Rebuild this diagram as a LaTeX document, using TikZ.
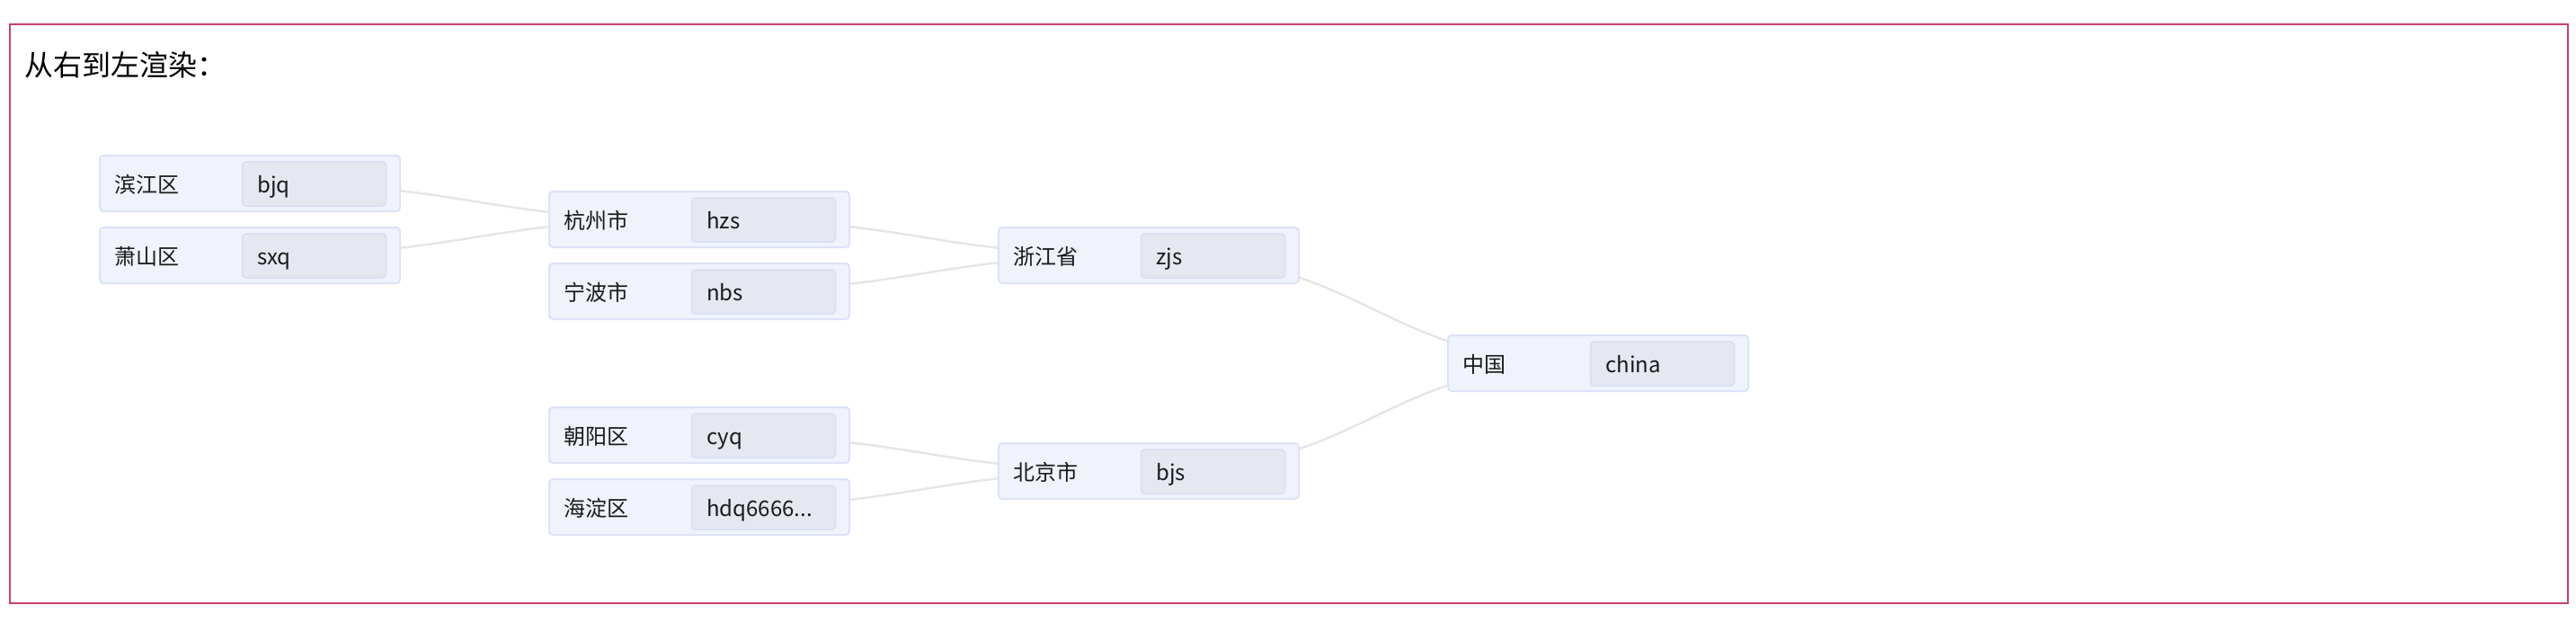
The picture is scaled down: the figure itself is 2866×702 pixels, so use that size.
\documentclass[tikz,border=0pt]{standalone}
\usepackage{fontspec}
\setmainfont{Noto Sans CJK SC}
\usetikzlibrary{backgrounds,calc}
\definecolor{framec}{HTML}{C8426E}
\definecolor{nodefill}{HTML}{F0F3FC}
\definecolor{nodeline}{HTML}{DCE2F6}
\definecolor{valfill}{HTML}{E5E8F1}
\definecolor{valline}{HTML}{D8DEF2}
\definecolor{edgec}{HTML}{E6E6E6}
\definecolor{textc}{HTML}{1A1A1A}
\newcommand\tnode[5]{%
  \node[box] (#1) at (#2+168,#3+32) {};
  \node[valbox] (#1v) at (#2+239.5,#3+32.5) {};
  \node[lbl] (#1l) at (#2+17,#3+42) {#4};
  \node[lbl] (#1s) at (#2+176,#3+42) {#5};}
\begin{document}
\begin{tikzpicture}[x=1pt,y=-1pt,
  box/.style={draw=nodeline, fill=nodefill, line width=2pt, rounded corners=4pt,
    minimum width=334pt, minimum height=62pt, inner sep=0pt, outer sep=0pt},
  valbox/.style={draw=valline, fill=valfill, line width=1.5pt, rounded corners=4pt,
    minimum width=160pt, minimum height=49pt, inner sep=0pt, outer sep=0pt},
  lbl/.style={font=\fontsize{24}{28}\selectfont, text=textc, inner sep=0pt, anchor=base west},
  titlestyle/.style={font=\fontsize{32}{38}\selectfont, text=black, inner sep=0pt, anchor=base west},
  framestyle/.style={draw=framec, line width=2.5pt},
  edge/.style={draw=edgec, line width=2.5pt},
  link/.style={to path={let \p1=(\tikztostart), \p2=(\tikztotarget) in
    .. controls ({(\x1+\x2)/2},\y1) and ({(\x1+\x2)/2},\y2) .. (\tikztotarget)}}
]
\useasboundingbox (0,0) rectangle (2866,702);
\draw[framestyle] (11,27) rectangle (2857,671);
\node[titlestyle] (title) at (27,84) {从右到左渲染：};

\tnode{bj}{110}{172}{滨江区}{bjq}
\tnode{xs}{110}{252}{萧山区}{sxq}
\tnode{hz}{610}{212}{杭州市}{hzs}
\tnode{nb}{610}{292}{宁波市}{nbs}
\tnode{cy}{610}{452}{朝阳区}{cyq}
\tnode{hd}{610}{532}{海淀区}{hdq6666...}
\tnode{zj}{1110}{252}{浙江省}{zjs}
\tnode{bjs}{1110}{492}{北京市}{bjs}
\tnode{cn}{1610}{372}{中国}{china}

\begin{scope}[on background layer]
  \draw[edge] (cn.center) to[link] (zj.center);
  \draw[edge] (cn.center) to[link] (bjs.center);
  \draw[edge] (zj.center) to[link] (hz.center);
  \draw[edge] (zj.center) to[link] (nb.center);
  \draw[edge] (bjs.center) to[link] (cy.center);
  \draw[edge] (bjs.center) to[link] (hd.center);
  \draw[edge] (hz.center) to[link] (bj.center);
  \draw[edge] (hz.center) to[link] (xs.center);
\end{scope}
\end{tikzpicture}
\end{document}
